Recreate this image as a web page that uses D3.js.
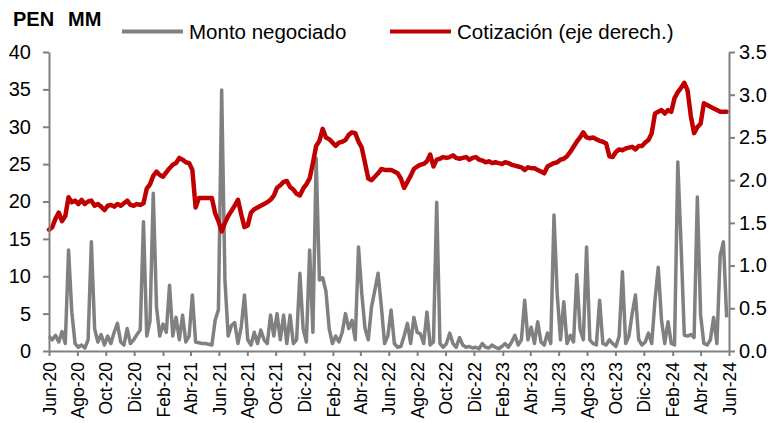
<!DOCTYPE html>
<html lang="es">
  <head>
    <meta charset="UTF-8" />
    <title>Monto negociado y cotización</title>
    <style>
      body { margin: 0; background: #fff; }
      svg { font-family: Arial, "Liberation Sans", sans-serif; }
      .axis path, .axis line { stroke: #808080; stroke-width: 2; }
      .axis text { fill: #000; }
    </style>
  </head>
  <body>
    <svg width="778" height="423"></svg>
    <script src="https://d3js.org/d3.v7.min.js"></script>
    <script>
      // weekly observations starting on 1 Jun 2020
      const startDate = new Date(2020, 5, 1);
      const endDate = new Date(2024, 5, 1);

      // Cotización (right axis)
      const cotizacion = [
        1.42,1.45,1.55,1.62,1.52,1.58,1.80,1.74,1.76,1.72,
        1.77,1.72,1.75,1.76,1.70,1.72,1.69,1.65,1.70,1.71,
        1.69,1.72,1.70,1.73,1.76,1.71,1.70,1.72,1.71,1.73,
        1.90,1.95,2.05,2.10,2.06,2.04,2.09,2.14,2.18,2.20,
        2.26,2.24,2.21,2.20,2.12,1.68,1.79,1.79,1.79,1.79,
        1.79,1.61,1.52,1.40,1.50,1.58,1.64,1.70,1.77,1.60,
        1.45,1.47,1.62,1.66,1.68,1.70,1.72,1.74,1.77,1.82,
        1.91,1.94,1.98,1.99,1.92,1.89,1.84,1.82,1.90,1.95,
        2.02,2.20,2.40,2.46,2.60,2.50,2.48,2.44,2.40,2.44,
        2.45,2.47,2.53,2.56,2.55,2.45,2.38,2.20,2.02,2.00,
        2.04,2.08,2.13,2.12,2.12,2.12,2.10,2.08,2.02,1.91,
        1.98,2.05,2.13,2.16,2.18,2.19,2.22,2.30,2.16,2.24,
        2.25,2.27,2.26,2.27,2.29,2.26,2.25,2.26,2.27,2.24,
        2.26,2.27,2.24,2.23,2.21,2.22,2.20,2.21,2.20,2.19,
        2.21,2.20,2.18,2.17,2.16,2.15,2.12,2.15,2.14,2.14,
        2.12,2.10,2.08,2.16,2.18,2.20,2.21,2.24,2.25,2.28,
        2.33,2.39,2.45,2.50,2.56,2.50,2.49,2.50,2.48,2.46,
        2.45,2.43,2.28,2.27,2.33,2.36,2.35,2.37,2.38,2.39,
        2.36,2.40,2.40,2.44,2.47,2.55,2.78,2.80,2.82,2.78,
        2.82,2.80,2.96,3.03,3.08,3.14,3.05,2.75,2.55,2.62,
        2.66,2.90,2.88,2.86,2.84,2.82,2.80,2.80,2.80
      ];

      // Monto negociado, PEN MM (left axis)
      const monto = [
        2.0,1.5,2.1,1.2,2.6,1.0,13.5,5.2,1.0,0.5,
        0.8,0.4,1.5,14.6,3.0,1.2,2.2,0.8,2.0,1.0,
        2.5,3.7,1.2,0.8,3.0,1.0,1.5,2.2,2.8,17.3,
        2.0,4.0,21.1,5.9,2.0,3.6,2.5,8.8,2.0,4.5,
        1.5,4.8,1.2,2.0,7.5,1.2,1.1,1.0,1.0,0.9,
        0.8,4.1,5.5,34.9,9.5,2.0,3.4,3.8,1.0,3.2,
        7.5,1.5,0.8,2.5,1.0,2.8,1.5,1.0,4.8,2.0,
        5.0,1.5,4.8,1.0,4.8,1.0,1.5,10.4,3.0,1.2,
        13.5,2.5,25.8,9.5,9.8,8.0,3.0,1.0,2.0,1.2,
        2.5,5.0,3.0,4.1,1.5,13.9,7.7,3.0,1.5,5.9,
        8.1,10.4,6.0,1.0,2.0,5.5,1.0,0.5,0.6,2.0,
        3.7,1.0,4.5,2.5,2.3,1.0,5.2,0.8,1.2,19.9,
        1.0,0.5,1.0,2.4,1.0,0.5,1.8,0.8,0.5,0.6,
        0.4,0.5,0.3,1.0,0.5,0.4,0.8,0.5,0.3,0.6,
        1.0,0.5,1.2,2.1,0.8,1.5,6.8,1.5,3.2,1.0,
        3.9,1.2,0.8,2.4,1.0,18.2,7.5,1.5,6.6,1.0,
        2.1,1.2,10.2,2.9,1.5,13.9,1.5,1.0,0.8,6.8,
        1.0,0.8,1.5,1.0,0.6,2.0,10.6,1.0,2.0,5.0,
        7.5,1.5,0.8,1.2,2.4,1.0,6.8,11.2,4.1,1.0,
        3.9,1.0,0.8,25.3,14.2,2.1,2.0,2.2,1.8,20.6,
        4.8,1.0,0.8,1.5,4.5,1.0,12.8,14.6,4.5
      ];

      const xTickLabels = [
        "Jun-20","Ago-20","Oct-20","Dic-20","Feb-21","Abr-21","Jun-21","Ago-21","Oct-21",
        "Dic-21","Feb-22","Abr-22","Jun-22","Ago-22","Oct-22","Dic-22","Feb-23","Abr-23",
        "Jun-23","Ago-23","Oct-23","Dic-23","Feb-24","Abr-24","Jun-24"
      ];
      const leftTicks = [0, 5, 10, 15, 20, 25, 30, 35, 40];
      const rightTicks = [0, 0.5, 1, 1.5, 2, 2.5, 3, 3.5];

      const svg = d3.select("svg");
      const margin = { left: 49, right: 729, top: 52, bottom: 351 };

      const dates = monto.map((_, i) => d3.timeDay.offset(startDate, i * 7));
      const xTickDates = xTickLabels.map((_, i) => d3.timeMonth.offset(startDate, i * 2));

      const x = d3.scaleTime().domain([startDate, endDate]).range([margin.left, margin.right]);
      const yL = d3.scaleLinear().domain([0, 40]).range([margin.bottom, margin.top]);
      const yR = d3.scaleLinear().domain([0, 3.5]).range([margin.bottom, margin.top]);

      // series
      const lineL = d3.line().x((d, i) => x(dates[i])).y((d) => yL(d));
      const lineR = d3.line().x((d, i) => x(dates[i])).y((d) => yR(d));

      svg.append("path")
        .datum(monto)
        .attr("d", lineL)
        .attr("fill", "none")
        .attr("stroke", "#808080")
        .attr("stroke-width", 3.5)
        .attr("stroke-linejoin", "round");

      svg.append("path")
        .datum(cotizacion)
        .attr("d", lineR)
        .attr("fill", "none")
        .attr("stroke", "#C00000")
        .attr("stroke-width", 4.5)
        .attr("stroke-linejoin", "round")
        .attr("stroke-linecap", "round");

      // axes
      const gL = svg.append("g")
        .attr("class", "axis")
        .attr("transform", `translate(${margin.left},0)`)
        .call(d3.axisLeft(yL).tickValues(leftTicks).tickSize(6).tickSizeOuter(0).tickPadding(12));
      gL.selectAll("text").style("font-size", "20px");

      const gR = svg.append("g")
        .attr("class", "axis")
        .attr("transform", `translate(${margin.right},0)`)
        .call(d3.axisRight(yR).tickValues(rightTicks).tickFormat(d3.format(".1f"))
          .tickSize(6).tickSizeOuter(0).tickPadding(4));
      gR.selectAll("text").style("font-size", "20px");

      const gX = svg.append("g")
        .attr("class", "axis")
        .attr("transform", `translate(0,${margin.bottom})`)
        .call(d3.axisBottom(x).tickValues(xTickDates)
          .tickFormat((d, i) => xTickLabels[i]).tickSize(5).tickSizeOuter(0));
      gX.selectAll("text")
        .style("font-size", "17.5px")
        .attr("transform", "rotate(-90)")
        .attr("text-anchor", "end")
        .attr("x", -11)
        .attr("y", 0)
        .attr("dy", "0.35em");

      // header and legend
      svg.append("text").attr("x", 13).attr("y", 26)
        .style("font-size", "20px").style("font-weight", "bold").text("PEN");
      svg.append("text").attr("x", 68).attr("y", 26)
        .style("font-size", "20px").style("font-weight", "bold").text("MM");

      const legend = [
        { label: "Monto negociado", color: "#808080", x: 122 },
        { label: "Cotización (eje derech.)", color: "#C00000", x: 390 }
      ];
      const lg = svg.append("g").selectAll("g").data(legend).enter().append("g")
        .attr("transform", (d) => `translate(${d.x},31.5)`);
      lg.append("line")
        .attr("x1", 0).attr("x2", 61)
        .attr("stroke", (d) => d.color)
        .attr("stroke-width", 4);
      lg.append("text")
        .attr("x", 67).attr("dy", "0.35em")
        .style("font-size", "20.5px")
        .text((d) => d.label);
    </script>
  </body>
</html>
